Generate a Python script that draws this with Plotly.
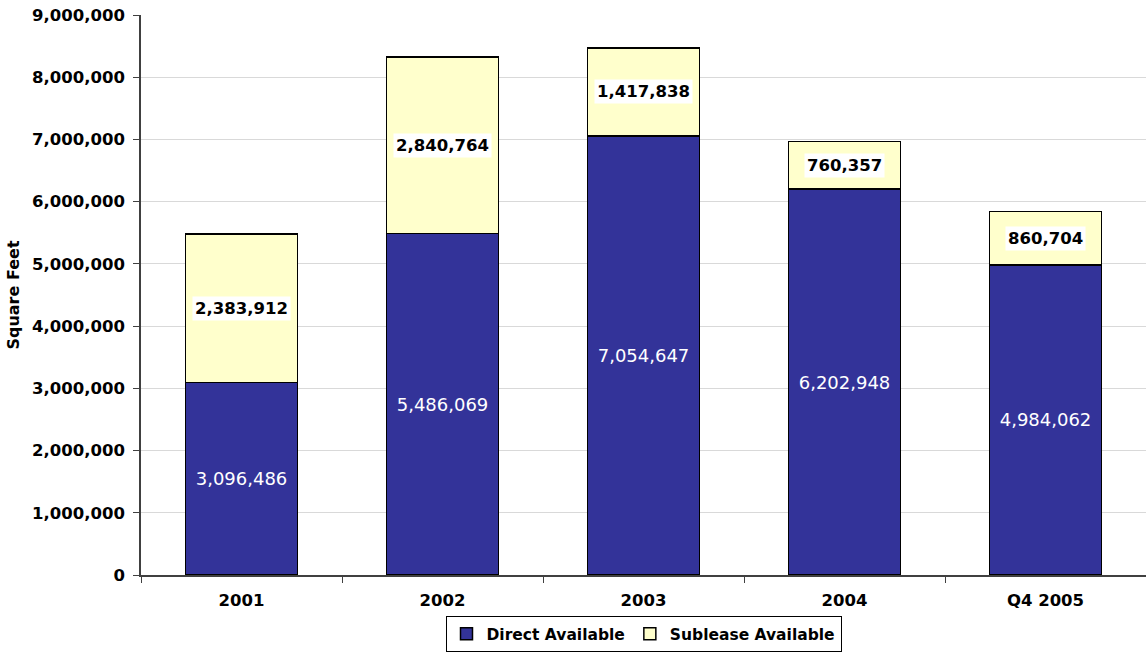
import plotly.graph_objects as go

years = ["2001", "2002", "2003", "2004", "Q4 2005"]
direct = [3096486, 5486069, 7054647, 6202948, 4984062]
sublease = [2383912, 2840764, 1417838, 760357, 860704]
y_ticks = [0, 1000000, 2000000, 3000000, 4000000, 5000000, 6000000, 7000000, 8000000, 9000000]

FONT = "DejaVu Sans"

fig = go.Figure()
fig.add_trace(go.Bar(
    x=years, y=direct, name="<b>Direct Available</b>",
    marker=dict(color="#333399", line=dict(color="#000000", width=1.5)),
    text=[f"{v:,}" for v in direct], textposition="inside",
    insidetextanchor="middle",
    textfont=dict(color="white", size=18, family=FONT),
    width=0.556,
))
fig.add_trace(go.Bar(
    x=years, y=sublease, name="<b>Sublease Available</b>",
    marker=dict(color="#FFFFCC", line=dict(color="#000000", width=1.5)),
    width=0.556,
))

# Sublease value labels sit on white boxes at the middle of each segment
# (category index used as x so numeric-looking names stay on their bars)
for i, (d, s) in enumerate(zip(direct, sublease)):
    fig.add_annotation(
        x=i, y=d + s / 2, text=f"<b>{s:,}</b>", showarrow=False,
        bgcolor="white", borderpad=2,
        font=dict(color="black", size=16.5, family=FONT),
    )

fig.update_layout(
    barmode="stack", bargap=0.444,
    width=1146, height=654,
    margin=dict(l=141, r=0, t=15, b=79),
    plot_bgcolor="white", paper_bgcolor="white",
    font=dict(family=FONT, color="black"),
    legend=dict(
        orientation="h", x=0.5, xanchor="center",
        yref="container", y=0.058, yanchor="top",
        bordercolor="#000000", borderwidth=1, traceorder="normal",
        font=dict(size=15.5, family=FONT, color="black"),
        itemwidth=30, tracegroupgap=0,
    ),
    showlegend=True,
)
fig.update_yaxes(
    range=[0, 9000000], tickvals=y_ticks,
    ticktext=[f"<b>{v:,}</b>" for v in y_ticks],
    showgrid=True, gridcolor="#d9d9d9", gridwidth=1,
    showline=True, linecolor="#404040", linewidth=1.5,
    ticks="outside", ticklen=6, tickcolor="#404040",
    ticklabelstandoff=5,
    tickfont=dict(size=16.5, family=FONT),
    title=dict(text="<b>Square Feet</b>", font=dict(size=16, family=FONT), standoff=8),
    zeroline=False,
)
fig.update_xaxes(
    type="category", range=[-0.5, len(years) - 0.5],
    ticktext=[f"<b>{y}</b>" for y in years], tickvals=years,
    tickson="boundaries",
    showline=True, linecolor="#404040", linewidth=1.5,
    ticks="outside", ticklen=6, tickcolor="#404040",
    ticklabelstandoff=9,
    tickfont=dict(size=16.5, family=FONT),
)

fig.write_html("out.html")
